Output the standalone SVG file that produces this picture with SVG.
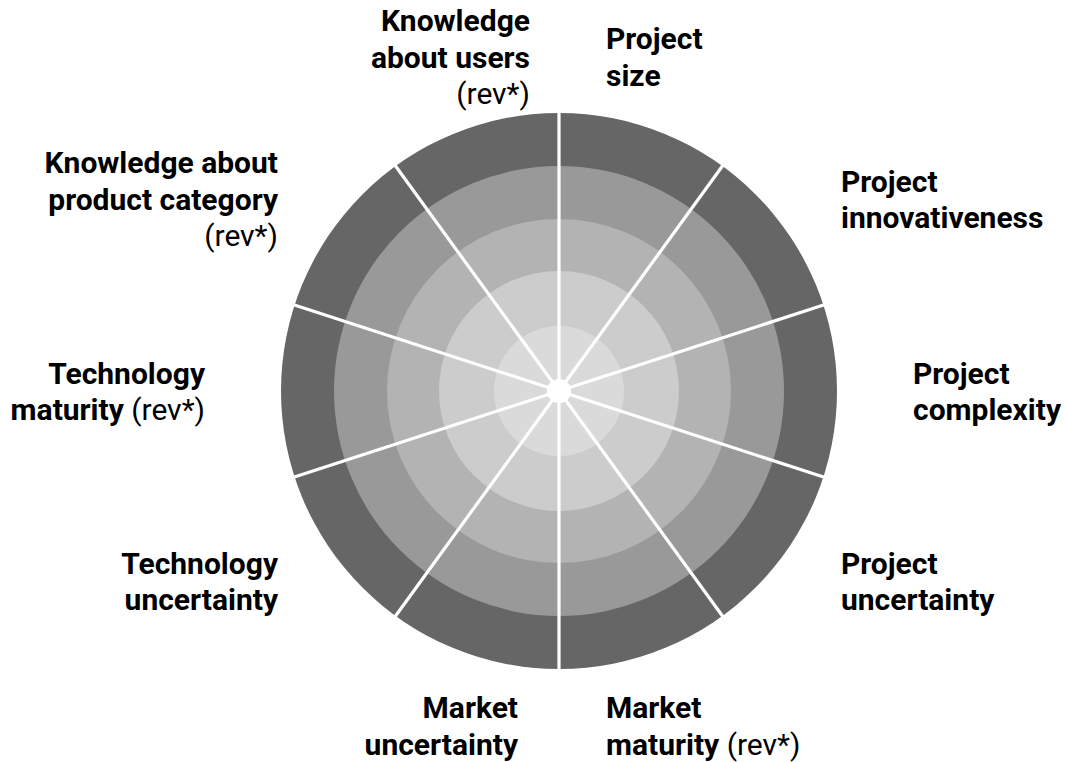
<svg xmlns="http://www.w3.org/2000/svg" width="1066" height="762" viewBox="0 0 1066 762">
<style>
text{font-family:Roboto,"Liberation Sans",sans-serif;font-size:30px;fill:#000}
.b{font-weight:700}
.r{font-weight:400}
.e{text-anchor:end}
.spoke{stroke:#fff;stroke-width:3.2}
</style>
<g id="chart">
<circle cx="559" cy="391" r="278" fill="#666666"/>
<circle cx="559" cy="391" r="225" fill="#999999"/>
<circle cx="559" cy="391" r="172" fill="#b3b3b3"/>
<circle cx="559" cy="391" r="120" fill="#cccccc"/>
<circle cx="559" cy="391" r="65" fill="#dadada"/>
</g>
<g id="connectors">
<line class="spoke" x1="559" y1="391" x2="559" y2="112"/>
<line class="spoke" x1="559" y1="391" x2="559" y2="112" transform="rotate(36 559 391)"/>
<line class="spoke" x1="559" y1="391" x2="559" y2="112" transform="rotate(72 559 391)"/>
<line class="spoke" x1="559" y1="391" x2="559" y2="112" transform="rotate(108 559 391)"/>
<line class="spoke" x1="559" y1="391" x2="559" y2="112" transform="rotate(144 559 391)"/>
<line class="spoke" x1="559" y1="391" x2="559" y2="112" transform="rotate(180 559 391)"/>
<line class="spoke" x1="559" y1="391" x2="559" y2="112" transform="rotate(216 559 391)"/>
<line class="spoke" x1="559" y1="391" x2="559" y2="112" transform="rotate(252 559 391)"/>
<line class="spoke" x1="559" y1="391" x2="559" y2="112" transform="rotate(288 559 391)"/>
<line class="spoke" x1="559" y1="391" x2="559" y2="112" transform="rotate(324 559 391)"/>
<circle cx="559" cy="391" r="12" fill="#fff"/>
</g>
<g id="label-knowledge-users">
<text class="b e" x="530" y="31">Knowledge</text>
<text class="b e" x="530" y="67.5">about users</text>
<text class="r e" x="530" y="104">(rev*)</text>
</g>
<g id="label-project-size">
<text class="b" x="606" y="49">Project</text>
<text class="b" x="606" y="85.5">size</text>
</g>
<g id="label-project-innovativeness">
<text class="b" x="841" y="192">Project</text>
<text class="b" x="841" y="228">innovativeness</text>
</g>
<g id="label-project-complexity">
<text class="b" x="913" y="384">Project</text>
<text class="b" x="913" y="420">complexity</text>
</g>
<g id="label-project-uncertainty">
<text class="b" x="841" y="574">Project</text>
<text class="b" x="841" y="610">uncertainty</text>
</g>
<g id="label-market-maturity">
<text class="b" x="606" y="718">Market</text>
<text x="606" y="754.5"><tspan class="b">maturity</tspan><tspan class="r"> (rev*)</tspan></text>
</g>
<g id="label-market-uncertainty">
<text class="b e" x="518" y="718">Market</text>
<text class="b e" x="518" y="754.5">uncertainty</text>
</g>
<g id="label-technology-uncertainty">
<text class="b e" x="278" y="574">Technology</text>
<text class="b e" x="278" y="610">uncertainty</text>
</g>
<g id="label-technology-maturity">
<text class="b e" x="205" y="384">Technology</text>
<text class="e" x="205" y="420"><tspan class="b">maturity</tspan><tspan class="r"> (rev*)</tspan></text>
</g>
<g id="label-knowledge-product">
<text class="b e" x="278" y="173">Knowledge about</text>
<text class="b e" x="278" y="209.5">product category</text>
<text class="r e" x="278" y="246">(rev*)</text>
</g>
</svg>
